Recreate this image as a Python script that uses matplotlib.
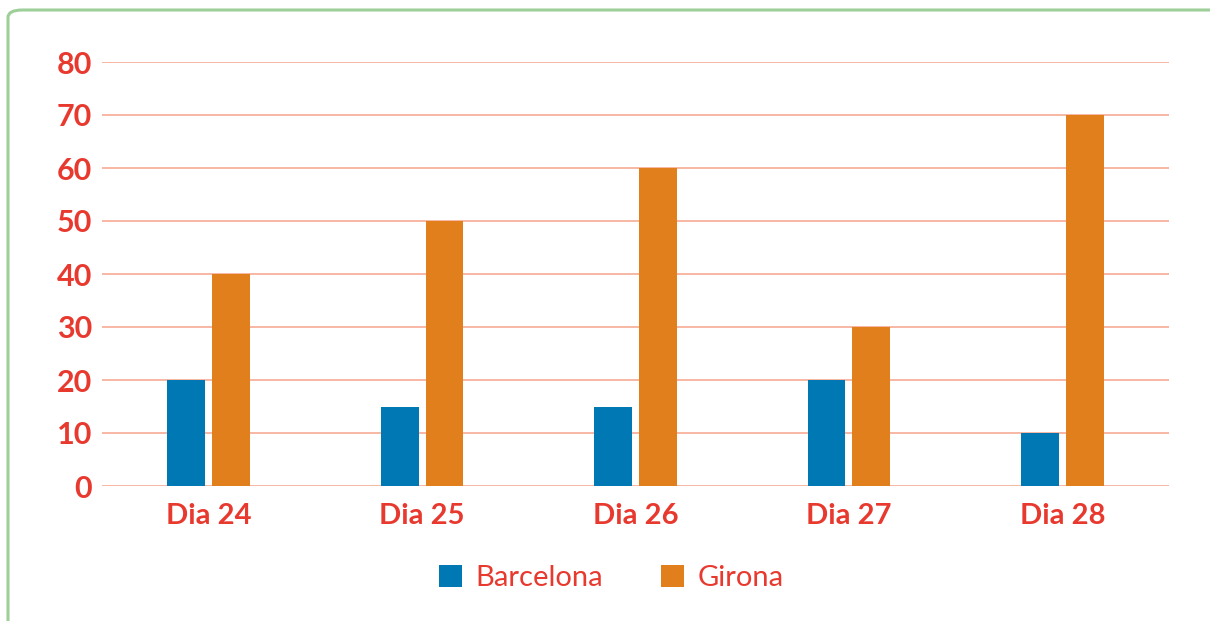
import matplotlib
matplotlib.use("Agg")
import matplotlib.pyplot as plt
from matplotlib.patches import FancyBboxPatch, Patch
import numpy as np

categories = ["Dia 24", "Dia 25", "Dia 26", "Dia 27", "Dia 28"]
barcelona = [20, 15, 15, 20, 10]
girona = [40, 50, 60, 30, 70]
yticks = [0, 10, 20, 30, 40, 50, 60, 70, 80]

RED = "#e8392f"
GRID = "#f6ab93"
BLUE = "#0078b4"
ORANGE = "#e07f1c"
GREEN = "#9ecf98"

plt.rcParams['font.family'] = ['Lato', 'DejaVu Sans']

fig = plt.figure(figsize=(12.1, 6.21), dpi=100)
fig.patch.set_facecolor("white")

# green rounded border
border = FancyBboxPatch((8 / 1210, -0.05), 1.2, 1.05 - 10 / 621 + 0.0,
                        boxstyle="round,pad=0,rounding_size=0.012",
                        transform=fig.transFigure, facecolor="none",
                        edgecolor=GREEN, linewidth=2.2, clip_on=False)
fig.patches.append(border)

ax = fig.add_axes([102 / 1210, 1 - 486 / 621, (1169 - 102) / 1210, (486 - 62) / 621])
x = np.arange(len(categories))
w = 0.178
ax.bar(x - 0.105, barcelona, width=w, color=BLUE, zorder=3)
ax.bar(x + 0.105, girona, width=w, color=ORANGE, zorder=3)

ax.set_xlim(-0.5, len(categories) - 0.5)
ax.set_ylim(0, 80)
ax.set_yticks(yticks)
ax.set_yticklabels([str(v) for v in yticks])
ax.set_xticks(x)
ax.set_xticklabels(categories)
for s in ax.spines.values():
    s.set_visible(False)
ax.grid(axis="y", color=GRID, linewidth=1.2, zorder=0)
ax.tick_params(axis="both", length=0, colors=RED, labelsize=21)
ax.tick_params(axis="y", pad=7, labelsize=22)
ax.tick_params(axis="x", pad=12)
for lab in ax.get_yticklabels() + ax.get_xticklabels():
    lab.set_fontweight("bold")
    lab.set_color(RED)

handles = [Patch(facecolor=BLUE, label="Barcelona"), Patch(facecolor=ORANGE, label="Girona")]
leg = fig.legend(handles=handles, loc="center", bbox_to_anchor=(0.505, 1 - 578 / 621),
                 ncol=2, frameon=False, fontsize=21, handlelength=0.8, handleheight=0.8,
                 handletextpad=0.45, columnspacing=2.0, labelcolor=RED)

fig.savefig("out.png", dpi=100, facecolor="white")
